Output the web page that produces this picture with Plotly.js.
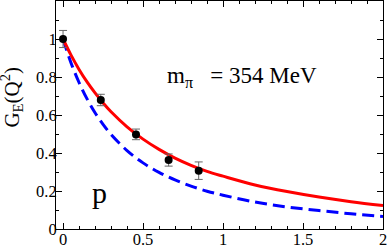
<!DOCTYPE html>
<html>
<head>
<meta charset="utf-8">
<script src="https://cdn.plot.ly/plotly-3.0.1.min.js"></script>
<style>html,body{margin:0;padding:0;background:#fff;}#plot{width:388px;height:247px;}</style>
</head>
<body>
<div id="plot"></div>
<script>
// Lattice data points
const q2Lattice = [0, 0.236, 0.456, 0.66, 0.848];
const geLattice = [1.0, 0.679, 0.498, 0.363, 0.307];
const geErr = [0.045, 0.03, 0.028, 0.032, 0.046];

// Curves
const q2Curve = [0, 0.05, 0.1, 0.15, 0.2, 0.25, 0.3, 0.4, 0.5, 0.6, 0.7, 0.8, 0.9, 1.0, 1.2, 1.4, 1.6, 1.8, 2.0];
const geRed = [1, 0.915, 0.840, 0.774, 0.716, 0.664, 0.617, 0.538, 0.473, 0.419, 0.373, 0.335, 0.303, 0.278, 0.232, 0.197, 0.168, 0.144, 0.124];
const geBlue = [1, 0.874, 0.771, 0.685, 0.612, 0.551, 0.498, 0.413, 0.348, 0.298, 0.258, 0.226, 0.199, 0.178, 0.142, 0.116, 0.097, 0.080, 0.066];

// Tick labels
const xTicks = [0, 0.5, 1, 1.5, 2];
const xTickText = ["0", "0.5", "1", "1.5", "2"];
const yTicks = [0, 0.2, 0.4, 0.6, 0.8, 1];
const yTickText = ["0", "0.2", "0.4", "0.6", "0.8", "1"];

// Text
const yTitle = "G<sub>E</sub>(Q<sup>2</sup>)";
const massLabel = "m<sub>π</sub>\u00a0\u00a0\u00a0= 354 MeV";
const particleLabel = "p";

const serif = "'Liberation Serif', 'Times New Roman', serif";

const traces = [
  {x: q2Curve, y: geBlue, mode: 'lines', line: {color: '#0000ff', width: 3, dash: '12px,6px', shape: 'spline'}, hoverinfo: 'skip'},
  {x: q2Curve, y: geRed, mode: 'lines', line: {color: '#ff0000', width: 3, shape: 'spline'}, hoverinfo: 'skip'},
  {x: q2Lattice, y: geLattice, mode: 'markers', marker: {color: '#000', size: 8},
   error_y: {type: 'data', array: geErr, visible: true, color: '#666', thickness: 1, width: 4}}
];

const axisCommon = {
  showline: true, linecolor: '#000', linewidth: 1, mirror: 'allticks',
  ticks: 'inside', ticklen: 6, tickwidth: 1, tickcolor: '#000',
  showgrid: false, zeroline: false,
  tickfont: {family: serif, size: 16.5, color: '#000'}
};

const layout = {
  width: 388, height: 247,
  margin: {l: 56, r: 5, t: 1, b: 18},
  paper_bgcolor: '#fff', plot_bgcolor: '#fff',
  showlegend: false,
  font: {family: serif, color: '#000'},
  xaxis: Object.assign({}, axisCommon, {
    range: [-0.044, 2.0], tickmode: 'array', tickvals: xTicks, ticktext: xTickText,
    ticklabelstandoff: -5,
    minor: {dtick: 0.1, tick0: 0, ticklen: 3, ticks: 'inside', tickcolor: '#000'}
  }),
  yaxis: Object.assign({}, axisCommon, {
    range: [0, 1.2], tickmode: 'array', tickvals: yTicks, ticktext: yTickText,
    ticklabelstandoff: -5,
    minor: {dtick: 0.1, tick0: 0, ticklen: 3, ticks: 'inside', tickcolor: '#000'}
  }),
  annotations: [
    {text: yTitle, xref: 'paper', yref: 'paper', x: -0.135, y: 0.58, xanchor: 'center', yanchor: 'middle',
     textangle: -90, showarrow: false, font: {family: serif, size: 21, color: '#000'}},
    {text: massLabel, xref: 'paper', yref: 'paper', x: 0.569, y: 0.668, xanchor: 'center', yanchor: 'middle',
     showarrow: false, font: {family: serif, size: 23, color: '#000'}},
    {text: particleLabel, xref: 'paper', yref: 'paper', x: 0.134, y: 0.16, xanchor: 'center', yanchor: 'middle',
     showarrow: false, font: {family: serif, size: 30, color: '#000'}}
  ]
};

Plotly.newPlot('plot', traces, layout, {staticPlot: true, displayModeBar: false});
</script>
</body>
</html>
